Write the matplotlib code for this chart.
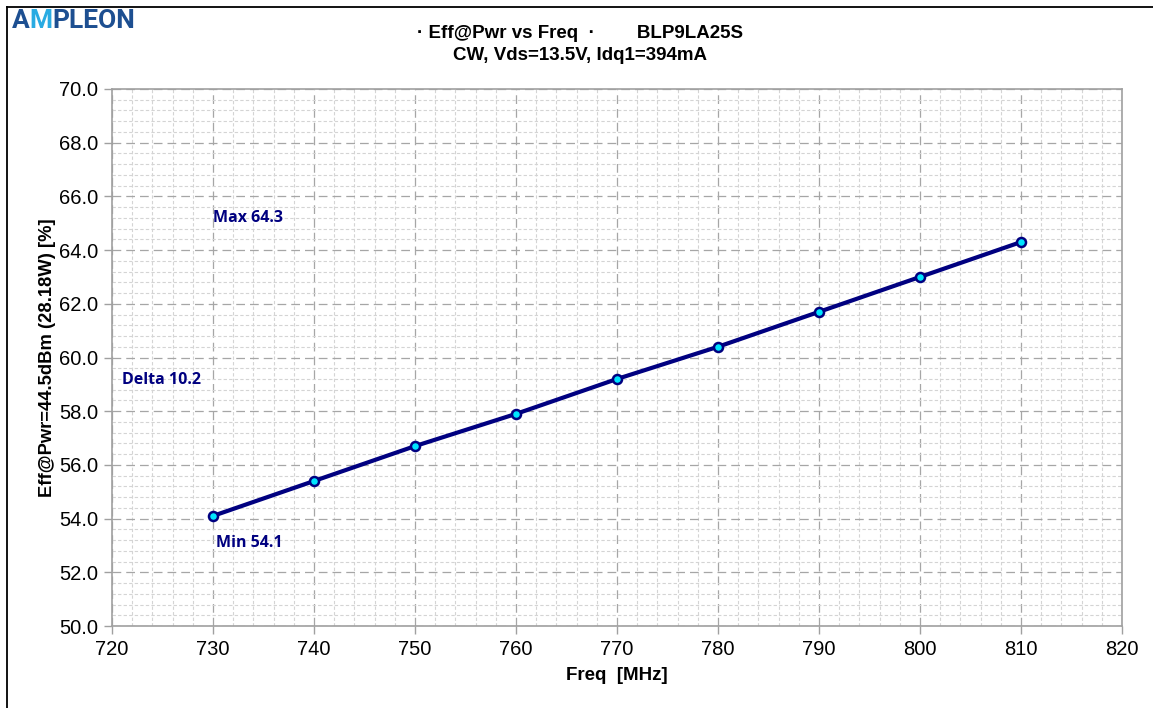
import matplotlib
matplotlib.use("Agg")
import matplotlib.pyplot as plt
from matplotlib.ticker import MultipleLocator, FormatStrFormatter
from matplotlib.lines import Line2D

freq = [730, 740, 750, 760, 770, 780, 790, 800, 810]
eff = [54.1, 55.4, 56.7, 57.9, 59.2, 60.4, 61.7, 63.0, 64.3]
title1 = "· Eff@Pwr vs Freq  ·        BLP9LA25S"
title2 = "CW, Vds=13.5V, Idq1=394mA"
xlabel = "Freq  [MHz]"
ylabel = "Eff@Pwr=44.5dBm (28.18W) [%]"
notes = [("Max 64.3", 730.0, 65.2), ("Delta 10.2", 721.0, 59.15), ("Min 54.1", 730.3, 53.1)]

plt.rcParams['font.family'] = ['Liberation Sans', 'DejaVu Sans']

W, H = 1153, 708
fig = plt.figure(figsize=(W / 100, H / 100), dpi=100)
fig.patch.set_facecolor('white')
ax = fig.add_axes([112 / W, 1 - 626 / H, (1122 - 112) / W, (626 - 89) / H])

ax.set_xlim(720, 820)
ax.set_ylim(50, 70)
ax.xaxis.set_major_locator(MultipleLocator(10))
ax.xaxis.set_minor_locator(MultipleLocator(2))
ax.yaxis.set_major_locator(MultipleLocator(2))
ax.yaxis.set_minor_locator(MultipleLocator(0.4))
ax.yaxis.set_major_formatter(FormatStrFormatter('%.1f'))

ax.grid(which='minor', color='#d4d4d4', linestyle=(0, (3, 2)), linewidth=0.8)
ax.grid(which='major', color='#a6a6a6', linestyle=(0, (7, 4)), linewidth=0.9)
ax.set_axisbelow(True)

for s in ax.spines.values():
    s.set_color('#a0a0a0')
    s.set_linewidth(1.2)

ax.tick_params(which='major', direction='out', length=6, width=1, color='#a0a0a0',
               labelsize=14.5, labelcolor='#000000', pad=4)
ax.tick_params(which='minor', length=0)

ax.plot(freq, eff, color='#000080', linewidth=3.0, marker='o', markersize=6.5,
        markerfacecolor='#00e5ff', markeredgecolor='#000080', markeredgewidth=1.8, zorder=5)

for txt, x, y in notes:
    ax.text(x, y, txt, color='#000080', fontsize=11.5, fontweight='bold',
            family=['Open Sans', 'DejaVu Sans'], ha='left', va='center', zorder=6)

ax.set_xlabel(xlabel, fontsize=13.5, fontweight='bold', labelpad=6)
ax.set_ylabel(ylabel, fontsize=13.2, fontweight='bold', labelpad=2)

fig.text(580 / W, 1 - 33 / H, title1, ha='center', va='center', fontsize=13.5, fontweight='bold')
fig.text(580 / W, 1 - 55 / H, title2, ha='center', va='center', fontsize=13.5, fontweight='bold')

# logo
dark = '#1d4f91'
light = '#29abe2'
logo_font = dict(fontsize=19, fontweight='bold', family=['Roboto', 'DejaVu Sans'])
t1 = fig.text(12 / W, 1 - 21 / H, "A", ha='left', va='center', color=dark, **logo_font)
m = ax.annotate("M", xy=(1, 0.5), xycoords=t1, ha='left', va='center',
                color=light, annotation_clip=False, **logo_font)
ax.annotate("PLEON", xy=(1, 0.5), xycoords=m, ha='left', va='center',
            color=dark, annotation_clip=False, **logo_font)

# figure border (left and top)
fig.add_artist(Line2D([6.5 / W, 6.5 / W], [0, 1 - 6.5 / H], transform=fig.transFigure,
                      color='black', linewidth=1.3))
fig.add_artist(Line2D([6.5 / W, 1], [1 - 6.5 / H, 1 - 6.5 / H], transform=fig.transFigure,
                      color='black', linewidth=1.3))

fig.savefig("out.png", dpi=100)
